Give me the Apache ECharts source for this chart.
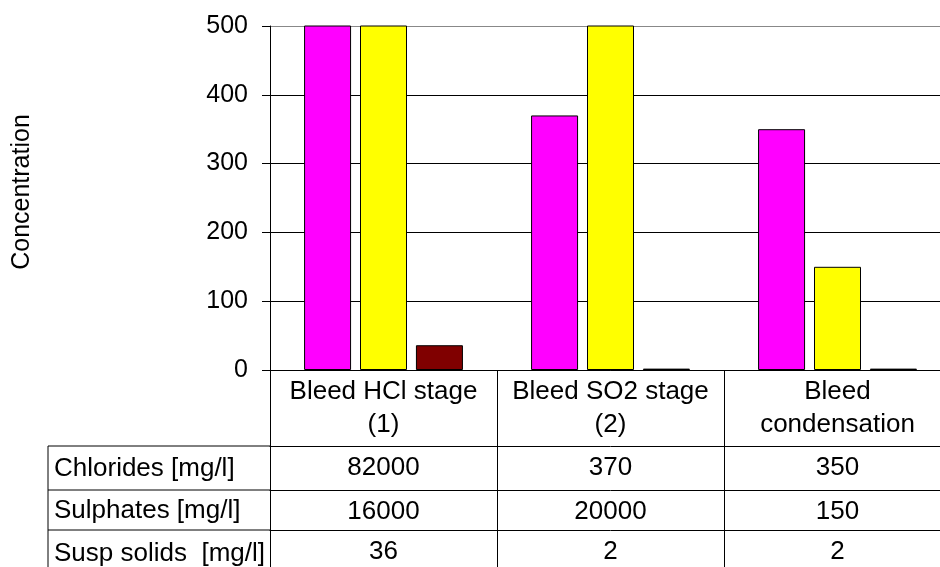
<!DOCTYPE html>
<html>
<head>
<meta charset="utf-8">
<script src="https://cdn.jsdelivr.net/npm/echarts@6/dist/echarts.min.js"></script>
<style>html,body{margin:0;padding:0;background:#fff;overflow:hidden;width:940px;height:567px}#c{width:960px;height:567px}</style>
</head>
<body>
<div id="c"></div>
<script>
// ---- data ----
const categories = ['Bleed HCl stage\n(1)', 'Bleed SO2 stage\n(2)', 'Bleed\ncondensation'];
const seriesNames = ['Chlorides [mg/l]', 'Sulphates [mg/l]', 'Susp solids  [mg/l]'];
const chlorides = [82000, 370, 350];
const sulphates = [16000, 20000, 150];
const suspSolids = [36, 2, 2];
const seriesColors = ['#FF00FF', '#FFFF00', '#800000'];
const yAxisTitle = 'Concentration';
const yMin = 0, yMax = 500, yStep = 100;

// ---- layout ----
const FONT = "'Liberation Sans', Arial, sans-serif";
const GRID_LEFT = 270, GRID_TOP = 26, GRID_H = 344, GRID_W = 681;
const AXIS_Y = GRID_TOP + GRID_H;           // 370
const ROW_OFFSETS = [76, 120, 160];         // table row top lines below the x axis
const ROW_BOTTOM = 575;
const TABLE_LEFT = 48;

const allValues = [chlorides, sulphates, suspSolids];

const chart = echarts.init(document.getElementById('c'), null, {renderer: 'canvas'});

const xAxes = [{
  type: 'category',
  gridIndex: 0,
  data: categories,
  position: 'bottom',
  axisLine: {show: true, lineStyle: {color: '#000', width: 1}},
  axisTick: {show: true, length: ROW_BOTTOM - AXIS_Y, lineStyle: {color: '#000', width: 1}},
  axisLabel: {color: '#000', fontSize: 26, fontFamily: FONT, lineHeight: 33, margin: 5, interval: 0},
  splitLine: {show: false}
}];
allValues.forEach((vals, i) => {
  xAxes.push({
    type: 'category',
    gridIndex: 0,
    position: 'bottom',
    offset: ROW_OFFSETS[i],
    data: vals.map(v => String(v)),
    axisLine: {show: true, lineStyle: {color: '#000', width: 1}},
    axisTick: {show: false},
    axisLabel: {color: '#000', fontSize: 26, fontFamily: FONT, lineHeight: 30, margin: 7, interval: 0},
    splitLine: {show: false}
  });
});

const graphics = [];
ROW_OFFSETS.forEach((off, i) => {
  const top = AXIS_Y + off;
  const bottom = i + 1 < ROW_OFFSETS.length ? AXIS_Y + ROW_OFFSETS[i + 1] : ROW_BOTTOM;
  graphics.push({type: 'line', shape: {x1: TABLE_LEFT, y1: top, x2: GRID_LEFT, y2: top},
                 style: {stroke: '#000', lineWidth: 1}, silent: true});
  graphics.push({type: 'text', x: TABLE_LEFT + 6, y: (top + bottom) / 2 + 1,
                 style: {text: seriesNames[i], fill: '#000', font: '26px ' + FONT,
                         textAlign: 'left', textVerticalAlign: 'middle'}, silent: true});
});
graphics.push({type: 'line', shape: {x1: TABLE_LEFT, y1: AXIS_Y + ROW_OFFSETS[0], x2: TABLE_LEFT, y2: ROW_BOTTOM},
               style: {stroke: '#000', lineWidth: 1}, silent: true});
graphics.push({type: 'text', x: 22, y: 192, rotation: Math.PI / 2,
               style: {text: yAxisTitle, fill: '#000', font: '25px ' + FONT,
                       textAlign: 'center', textVerticalAlign: 'middle'}, silent: true});

const option = {
  backgroundColor: '#fff',
  animation: false,
  grid: {left: GRID_LEFT, top: GRID_TOP, width: GRID_W, height: GRID_H, containLabel: false},
  xAxis: xAxes,
  yAxis: {
    type: 'value',
    min: yMin, max: yMax, interval: yStep,
    axisLine: {show: true, lineStyle: {color: '#000', width: 1}},
    axisTick: {show: true, length: 8, lineStyle: {color: '#000'}},
    axisLabel: {color: '#000', fontSize: 25, fontFamily: FONT, margin: 22},
    splitLine: {show: true, lineStyle: {color: ['#000', '#000', '#000', '#000', '#000', '#888'], width: 1}}
  },
  series: allValues.map((vals, i) => ({
    name: seriesNames[i],
    type: 'bar',
    xAxisIndex: 0,
    data: vals,
    barWidth: 47,
    barGap: '19%',
    clip: true,
    itemStyle: {color: seriesColors[i], borderColor: '#000', borderWidth: 1}
  })),
  graphic: graphics
};
chart.setOption(option);
</script>
</body>
</html>
